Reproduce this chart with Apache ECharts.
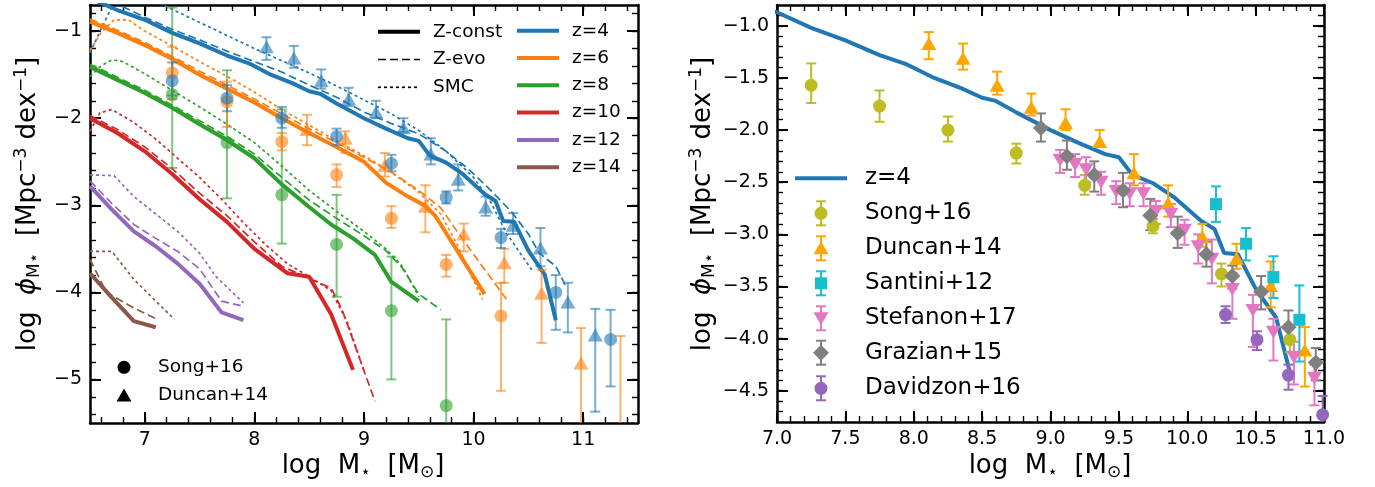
<!DOCTYPE html>
<html><head><meta charset="utf-8">
<script src="https://cdn.jsdelivr.net/npm/echarts@6/dist/echarts.min.js"></script>
<style>html,body{margin:0;padding:0;background:#fff}#c{width:1375px;height:487px}</style>
</head><body><div id="c"></div>
<script>
// ---------------- DATA ----------------
// Left panel model curves: [log M*, log phi]
const z4_const = [[6.5,-0.62],[6.75,-0.76],[7.0,-0.87],[7.25,-1.02],[7.5,-1.14],[7.75,-1.28],[7.95,-1.37],[8.15,-1.50],[8.35,-1.60],[8.5,-1.69],[8.6,-1.72],[8.75,-1.83],[9.0,-2.0],[9.2,-2.12],[9.4,-2.23],[9.5,-2.26],[9.6,-2.43],[9.75,-2.51],[9.9,-2.64],[10.1,-2.87],[10.2,-2.95],[10.27,-3.18],[10.37,-3.19],[10.5,-3.52],[10.65,-3.80],[10.75,-4.32]];
const z4_evo = [[6.6,-0.6],[6.8,-0.72],[7.0,-0.84],[7.25,-0.98],[7.5,-1.10],[7.75,-1.23],[8.0,-1.35],[8.25,-1.47],[8.5,-1.62],[8.75,-1.76],[9.0,-1.93],[9.25,-2.06],[9.5,-2.18],[9.75,-2.38],[9.95,-2.58],[10.15,-2.82],[10.35,-3.08],[10.5,-3.33],[10.6,-3.55],[10.75,-3.70],[10.85,-3.95]];
const z4_smc = [[6.5,-1.25],[6.6,-0.98],[6.7,-0.72],[6.8,-0.55],[7.0,-0.6],[7.25,-0.75],[7.5,-0.9],[7.75,-1.05],[8.0,-1.2],[8.25,-1.34],[8.5,-1.48],[8.75,-1.63],[9.0,-1.79],[9.25,-1.95],[9.5,-2.14],[9.75,-2.38],[10.0,-2.68],[10.15,-2.95],[10.3,-3.32],[10.53,-3.74]];

const z6_const = [[6.5,-0.89],[6.75,-1.02],[7.0,-1.16],[7.25,-1.32],[7.5,-1.50],[7.75,-1.66],[8.0,-1.82],[8.25,-2.0],[8.5,-2.17],[8.75,-2.33],[9.0,-2.5],[9.2,-2.74],[9.4,-2.90],[9.55,-3.0],[9.65,-3.12],[10.1,-4.02]];
const z6_evo = [[6.5,-0.86],[6.75,-0.99],[7.0,-1.13],[7.25,-1.29],[7.5,-1.46],[7.75,-1.62],[8.0,-1.78],[8.25,-1.95],[8.5,-2.12],[8.75,-2.28],[9.0,-2.45],[9.25,-2.62],[9.5,-2.83],[9.7,-3.03],[9.85,-3.3],[10.05,-3.65],[10.3,-4.08]];
const z6_smc = [[6.5,-1.22],[6.6,-1.02],[6.72,-0.87],[6.85,-0.87],[7.0,-1.0],[7.25,-1.17],[7.5,-1.35],[7.75,-1.52],[8.0,-1.70],[8.25,-1.90],[8.5,-2.08],[8.75,-2.26],[9.0,-2.43],[9.25,-2.62],[9.5,-2.85],[9.7,-3.1],[9.85,-3.45],[10.08,-4.08]];

const z8_const = [[6.5,-1.41],[6.75,-1.56],[7.0,-1.71],[7.25,-1.88],[7.5,-2.07],[7.75,-2.25],[8.0,-2.46],[8.25,-2.76],[8.5,-3.02],[8.7,-3.22],[8.9,-3.38],[9.1,-3.57],[9.25,-3.88],[9.5,-4.1]];
const z8_evo = [[6.5,-1.38],[6.75,-1.53],[7.0,-1.68],[7.25,-1.85],[7.5,-2.03],[7.75,-2.21],[8.0,-2.41],[8.25,-2.68],[8.5,-2.94],[8.75,-3.15],[9.0,-3.35],[9.2,-3.52],[9.35,-3.72],[9.5,-4.02],[9.7,-4.2]];
const z8_smc = [[6.5,-1.52],[6.6,-1.40],[6.7,-1.33],[6.8,-1.35],[7.0,-1.49],[7.25,-1.68],[7.5,-1.87],[7.75,-2.07],[8.0,-2.28],[8.25,-2.55],[8.5,-2.83],[8.75,-3.07],[9.0,-3.3],[9.2,-3.5],[9.35,-3.7],[9.5,-4.05]];

const z10_const = [[6.5,-2.0],[6.75,-2.17],[7.0,-2.38],[7.25,-2.64],[7.5,-2.93],[7.75,-3.19],[8.0,-3.5],[8.3,-3.78],[8.5,-3.82],[8.7,-4.25],[8.9,-4.89]];
const z10_evo = [[6.5,-1.97],[6.75,-2.13],[7.0,-2.33],[7.25,-2.58],[7.5,-2.86],[7.75,-3.12],[8.0,-3.42],[8.25,-3.7],[8.5,-3.84],[8.7,-3.95],[8.8,-4.2],[9.1,-5.25]];
const z10_smc = [[6.5,-2.15],[6.59,-1.94],[6.7,-1.90],[6.9,-2.05],[7.1,-2.24],[7.3,-2.46],[7.5,-2.68],[7.7,-2.93],[7.9,-3.2],[8.1,-3.45],[8.3,-3.67],[8.5,-3.82],[8.7,-3.98],[8.85,-4.35],[9.0,-4.9]];

const z12_const = [[6.5,-2.78],[6.7,-3.05],[6.9,-3.30],[7.1,-3.47],[7.3,-3.67],[7.5,-3.90],[7.7,-4.23],[7.9,-4.32]];
const z12_evo = [[6.5,-2.72],[6.7,-2.98],[6.9,-3.22],[7.1,-3.38],[7.3,-3.53],[7.5,-3.73],[7.7,-4.1],[7.9,-4.16]];
const z12_smc = [[6.5,-2.65],[6.72,-2.66],[6.9,-2.90],[7.1,-3.10],[7.3,-3.30],[7.5,-3.55],[7.65,-3.82],[7.8,-4.0],[7.9,-4.12]];

const z14_const = [[6.5,-3.78],[6.7,-4.06],[6.9,-4.33],[7.1,-4.40]];
const z14_evo = [[6.5,-3.62],[6.65,-4.0],[6.9,-4.18],[7.1,-4.30]];
const z14_smc = [[6.5,-3.53],[6.7,-3.53],[6.9,-3.85],[7.1,-4.1],[7.27,-4.31]];

// Left panel observations (x, y, +err, -err)
const song_z4_x = [7.25,7.75,8.25,8.75,9.25,9.75,10.25,10.75,11.25];
const song_z4_y = [-1.57,-1.77,-2.0,-2.21,-2.52,-2.91,-3.37,-4.0,-4.54];
const song_z4_ep = [0.21,0.15,0.13,0.09,0.1,0.07,0.1,0.2,0.34];
const song_z4_em = [0.17,0.15,0.11,0.1,0.09,0.07,0.12,0.43,0.54];

const song_z6_x = [7.25,7.75,8.25,8.75,9.25,9.75,10.25];
const song_z6_y = [-1.48,-1.81,-2.27,-2.65,-3.15,-3.68,-4.27];
const song_z6_ep = [0.3,0.23,0.1,0.12,0.14,0.11,0.38];
const song_z6_em = [0.3,0.29,0.1,0.14,0.11,0.14,0.86];

const song_z8_x = [7.25,7.75,8.25,8.75,9.25,9.75];
const song_z8_y = [-1.73,-2.28,-2.88,-3.45,-4.21,-5.30];
const song_z8_ep = [1.0,0.83,0.98,0.57,0.62,0.99];
const song_z8_em = [0.84,0.64,0.56,0.60,0.79,1.0];

const dun_z4_x = [8.11,8.36,8.61,8.86,9.11,9.36,9.61,9.86,10.11,10.36,10.61,10.86,11.11];
const dun_z4_y = [-1.18,-1.31,-1.57,-1.78,-1.93,-2.11,-2.41,-2.70,-3.02,-3.23,-3.49,-4.11,-4.49];
const dun_z4_ep = [0.11,0.14,0.13,0.13,0.13,0.11,0.18,0.17,0.12,0.14,0.23,0.22,0.30];
const dun_z4_em = [0.15,0.11,0.09,0.08,0.07,0.05,0.12,0.13,0.10,0.10,0.21,0.35,0.88];

const dun_z6_x = [8.48,8.83,9.19,9.56,9.91,10.28,10.62,10.98,11.34];
const dun_z6_y = [-2.13,-2.23,-2.54,-3.01,-3.33,-3.66,-4.01,-4.81,-5.6];
const dun_z6_ep = [0.17,0.08,0.14,0.24,0.12,0.16,0.27,0.40,1.1];
const dun_z6_em = [0.18,0.17,0.13,0.30,0.20,0.23,0.57,0.9,1.0];

// Right panel (z=4) observations
const r_song_x = [7.25,7.75,8.25,8.75,9.25,9.75,10.25,10.75];
const r_song_y = [-1.57,-1.77,-2.0,-2.22,-2.53,-2.92,-3.38,-4.01];
const r_song_ep = [0.21,0.15,0.13,0.09,0.10,0.07,0.10,0.12];
const r_song_em = [0.17,0.15,0.11,0.10,0.09,0.07,0.12,0.12];

const r_dun_x = [8.11,8.36,8.61,8.86,9.11,9.36,9.61,9.86,10.11,10.36,10.61,10.86];
const r_dun_y = [-1.17,-1.31,-1.57,-1.78,-1.93,-2.11,-2.41,-2.70,-3.02,-3.23,-3.49,-4.11];
const r_dun_ep = [0.11,0.14,0.13,0.13,0.13,0.11,0.18,0.17,0.12,0.14,0.23,0.22];
const r_dun_em = [0.15,0.11,0.09,0.08,0.07,0.05,0.12,0.13,0.10,0.10,0.21,0.35];

const r_san_x = [10.21,10.43,10.63,10.82];
const r_san_y = [-2.71,-3.09,-3.41,-3.82];
const r_san_ep = [0.17,0.15,0.20,0.33];
const r_san_em = [0.17,0.16,0.20,0.40];

const r_ste_x = [9.07,9.18,9.26,9.37,9.48,9.58,9.68,9.77,9.88,9.98,10.08,10.18,10.33,10.48,10.63,10.78,10.93];
const r_ste_y = [-2.29,-2.33,-2.38,-2.50,-2.59,-2.61,-2.61,-2.78,-2.81,-2.96,-3.12,-3.24,-3.53,-3.73,-3.94,-4.18,-4.38];
const r_ste_ep = [0.1,0.1,0.12,0.1,0.1,0.1,0.1,0.1,0.1,0.1,0.12,0.19,0.16,0.15,0.13,0.15,0.13];
const r_ste_em = [0.12,0.12,0.12,0.12,0.12,0.12,0.12,0.12,0.12,0.14,0.16,0.23,0.28,0.35,0.27,0.26,0.26];

const r_gra_x = [8.93,9.12,9.32,9.53,9.73,9.93,10.14,10.33,10.54,10.74,10.94];
const r_gra_y = [-1.98,-2.25,-2.43,-2.58,-2.82,-2.99,-3.19,-3.40,-3.55,-3.89,-4.23];
const r_gra_ep = [0.14,0.15,0.13,0.17,0.16,0.16,0.12,0.10,0.15,0.16,0.14];
const r_gra_em = [0.13,0.13,0.16,0.16,0.14,0.14,0.12,0.12,0.17,0.14,0.17];

const r_dav_x = [10.28,10.51,10.74,10.99];
const r_dav_y = [-3.77,-4.01,-4.35,-4.73];
const r_dav_ep = [0.08,0.08,0.10,0.18];
const r_dav_em = [0.08,0.10,0.14,0.20];

// Tick values
const L_xMajor = [7,8,9,10,11];
const L_yMajor = [-5,-4,-3,-2,-1];
const R_xMajor = [7.0,7.5,8.0,8.5,9.0,9.5,10.0,10.5,11.0];
const R_yMajor = [-4.5,-4.0,-3.5,-3.0,-2.5,-2.0,-1.5,-1.0];

const zLabels = ['z=4','z=6','z=8','z=10','z=12','z=14'];
const styleLabels = ['Z-const','Z-evo','SMC'];
const rightLabels = ['Song+16','Duncan+14','Santini+12','Stefanon+17','Grazian+15','Davidzon+16'];

// ---------------- CHART ----------------
const FONT = 'DejaVu Sans';
const COL = ['#1f77b4','#ff7f0e','#2ca02c','#d62728','#9467bd','#8c564b'];
const DASH = [8,4], DOT = [3,3];
const TRI = [15,13];

function steps(a, b, s) { const out=[]; for (let v=a; v<=b+1e-9; v+=s) out.push(Math.round(v*100)/100); return out; }
const fmtInt = v => (v<0?'\u2212':'') + Math.abs(v);
const fmt1 = v => (v<0?'\u2212':'') + Math.abs(v).toFixed(1);

function mkAxes(dim, grid, min, max, majors, minors, fmt) {
  const pm = dim==='x'?'bottom':'left', po = dim==='x'?'top':'right';
  const base = {type:'value', gridIndex:grid, min, max, splitLine:{show:false}, axisPointer:{show:false}, silent:true};
  const line = {show:true, onZero:false, lineStyle:{color:'#000', width:2.5}};
  const majT = {show:true, inside:true, length:11, lineStyle:{color:'#000', width:2}, customValues:majors};
  const minT = {show:true, inside:true, length:6, lineStyle:{color:'#000', width:1.4}, customValues:minors};
  return [
    Object.assign({}, base, {position:pm, axisLine:line, axisTick:majT, axisLabel:{show:true, customValues:majors, formatter:fmt, fontSize:19, fontFamily:FONT, color:'#000', margin:8}}),
    Object.assign({}, base, {position:pm, axisLine:{show:false}, axisTick:minT, axisLabel:{show:false}}),
    Object.assign({}, base, {position:po, axisLine:line, axisTick:majT, axisLabel:{show:false}}),
    Object.assign({}, base, {position:po, axisLine:{show:false}, axisTick:minT, axisLabel:{show:false}})
  ];
}

const xAxes = [].concat(
  mkAxes('x',0,6.5,11.5,L_xMajor,steps(6.6,11.4,0.2), fmtInt),
  mkAxes('x',1,7.0,11.0,R_xMajor,steps(7.1,10.9,0.1), fmt1)
);
const yAxes = [].concat(
  mkAxes('y',0,-5.5,-0.7,L_yMajor,steps(-5.4,-0.8,0.2), fmtInt),
  mkAxes('y',1,-4.8,-0.8,R_yMajor,steps(-4.7,-0.9,0.1), fmt1)
);

const series = [];
function lineS(panel, data, color, width, type) {
  series.push({type:'line', xAxisIndex:panel*4, yAxisIndex:panel*4, data, showSymbol:false, symbol:'none',
    lineStyle:{color, width, type}, clip:true, silent:true, animation:false, z:2});
}
function errS(panel, xs, ys, ep, em, color, op) {
  series.push({type:'custom', xAxisIndex:panel*4, yAxisIndex:panel*4, silent:true, animation:false, z:3,
    data: xs.map((x,i)=>[x, ys[i], ys[i]-em[i], ys[i]+ep[i]]),
    encode:{x:0, y:1},
    renderItem(params, api) {
      const cs = params.coordSys; const top = cs.y, bot = cs.y + cs.height;
      const x = api.value(0);
      const pHi = api.coord([x, api.value(3)]), pLo = api.coord([x, api.value(2)]);
      const px = pHi[0];
      if (px < cs.x - 1 || px > cs.x + cs.width + 1) return null;
      const y1 = Math.max(pHi[1], top), y2 = Math.min(pLo[1], bot);
      if (y2 <= y1) return null;
      const st = {stroke:color, lineWidth:2, opacity:op};
      const ch = [{type:'line', shape:{x1:px,y1:y1,x2:px,y2:y2}, style:st}];
      if (pHi[1] >= top) ch.push({type:'line', shape:{x1:px-5,y1:pHi[1],x2:px+5,y2:pHi[1]}, style:st});
      if (pLo[1] <= bot) ch.push({type:'line', shape:{x1:px-5,y1:pLo[1],x2:px+5,y2:pLo[1]}, style:st});
      return {type:'group', children:ch};
    }});
}
function ptS(panel, xs, ys, color, op, symbol, size, rot) {
  series.push({type:'scatter', xAxisIndex:panel*4, yAxisIndex:panel*4, data: xs.map((x,i)=>[x,ys[i]]),
    symbol, symbolSize:size, symbolRotate:rot||0, itemStyle:{color, opacity:op}, clip:true, silent:true, animation:false, z:4});
}

// Left panel lines
const curves = [[z4_const,z4_evo,z4_smc],[z6_const,z6_evo,z6_smc],[z8_const,z8_evo,z8_smc],[z10_const,z10_evo,z10_smc],[z12_const,z12_evo,z12_smc],[z14_const,z14_evo,z14_smc]];
curves.forEach((c,i)=>{
  lineS(0, c[1], COL[i], 1.7, DASH);
  lineS(0, c[2], COL[i], 1.7, DOT);
  lineS(0, c[0], COL[i], 4, 'solid');
});
// Left panel observations
const LOP = 0.6;
errS(0, song_z8_x, song_z8_y, song_z8_ep, song_z8_em, COL[2], LOP); ptS(0, song_z8_x, song_z8_y, COL[2], LOP, 'circle', 13);
errS(0, song_z6_x, song_z6_y, song_z6_ep, song_z6_em, COL[1], LOP); ptS(0, song_z6_x, song_z6_y, COL[1], LOP, 'circle', 13);
errS(0, dun_z6_x, dun_z6_y, dun_z6_ep, dun_z6_em, COL[1], LOP); ptS(0, dun_z6_x, dun_z6_y, COL[1], LOP, 'triangle', TRI);
errS(0, song_z4_x, song_z4_y, song_z4_ep, song_z4_em, COL[0], LOP); ptS(0, song_z4_x, song_z4_y, COL[0], LOP, 'circle', 13);
errS(0, dun_z4_x, dun_z4_y, dun_z4_ep, dun_z4_em, COL[0], LOP); ptS(0, dun_z4_x, dun_z4_y, COL[0], LOP, 'triangle', TRI);

// Right panel
lineS(1, z4_const, COL[0], 4, 'solid');
const RC = {song:'#bcbd22', dun:'#ffa500', san:'#17becf', ste:'#e377c2', gra:'#7f7f7f', dav:'#9467bd'};
errS(1, r_song_x, r_song_y, r_song_ep, r_song_em, RC.song, 1); ptS(1, r_song_x, r_song_y, RC.song, 1, 'circle', 13);
errS(1, r_dun_x, r_dun_y, r_dun_ep, r_dun_em, RC.dun, 1); ptS(1, r_dun_x, r_dun_y, RC.dun, 1, 'triangle', TRI);
errS(1, r_san_x, r_san_y, r_san_ep, r_san_em, RC.san, 1); ptS(1, r_san_x, r_san_y, RC.san, 1, 'rect', 12);
errS(1, r_ste_x, r_ste_y, r_ste_ep, r_ste_em, RC.ste, 1); ptS(1, r_ste_x, r_ste_y, RC.ste, 1, 'triangle', TRI, 180);
errS(1, r_gra_x, r_gra_y, r_gra_ep, r_gra_em, RC.gra, 1); ptS(1, r_gra_x, r_gra_y, RC.gra, 1, 'diamond', 16);
errS(1, r_dav_x, r_dav_y, r_dav_ep, r_dav_em, RC.dav, 1); ptS(1, r_dav_x, r_dav_y, RC.dav, 1, 'circle', 13);

// ---------------- GRAPHIC (legends & titles) ----------------
const g = [];
const txt = (x,y,t,fs) => g.push({type:'text', x, y, silent:true, style:{text:t, fontSize:fs, fontFamily:FONT, fill:'#000', align:'left', verticalAlign:'middle'}});
const ln = (x1,y1,x2,y2,c,w,dash) => g.push({type:'line', silent:true, shape:{x1,y1,x2,y2}, style:{stroke:c, lineWidth:w, lineDash:dash||null}});
// style legend
const styY = [31.7, 59.5, 87.3];
ln(378,styY[0],420,styY[0],'#000',4); ln(378,styY[1],420,styY[1],'#000',1.7,DASH); ln(378,styY[2],420,styY[2],'#000',1.7,DOT);
styleLabels.forEach((t,i)=>txt(433,styY[i],t,18.5));
zLabels.forEach((t,i)=>{ const y = 30.7 + 27.3*i; ln(517,y,559,y,COL[i],4); txt(572,y,t,18.5); });
// symbol legend (left bottom)
g.push({type:'circle', silent:true, shape:{cx:124, cy:367.3, r:6.5}, style:{fill:'#000'}});
g.push({type:'polygon', silent:true, shape:{points:[[124,388.5],[131.5,401.5],[116.5,401.5]]}, style:{fill:'#000'}});
txt(158,367.3,'Song+16',18.5); txt(158,395,'Duncan+14',18.5);
// right legend
ln(795,178.3,847,178.3,COL[0],4); txt(865,178.3,'z=4',23);
const rY = [213.3,248.3,283.3,318.3,352.7,388.3];
const rCol = [RC.song,RC.dun,RC.san,RC.ste,RC.gra,RC.dav];
rY.forEach((y,i)=>{
  const c = rCol[i], cx = 821;
  ln(cx,y-12,cx,y+12,c,2); ln(cx-5,y-12,cx+5,y-12,c,2); ln(cx-5,y+12,cx+5,y+12,c,2);
  let shape;
  if (i===0 || i===5) shape = {type:'circle', shape:{cx, cy:y, r:6.5}};
  else if (i===1) shape = {type:'polygon', shape:{points:[[cx,y-7],[cx+7.5,y+6],[cx-7.5,y+6]]}};
  else if (i===2) shape = {type:'rect', shape:{x:cx-6, y:y-6, width:12, height:12}};
  else if (i===3) shape = {type:'polygon', shape:{points:[[cx,y+7],[cx+7.5,y-6],[cx-7.5,y-6]]}};
  else shape = {type:'polygon', shape:{points:[[cx,y-8],[cx+8,y],[cx,y+8],[cx-8,y]]}};
  shape.silent = true; shape.style = {fill:c};
  g.push(shape);
  txt(865,y,rightLabels[i],23);
});
// axis titles
const richT = {
  a:{fontSize:26, fontFamily:FONT, fill:'#000'},
  i:{fontSize:26, fontFamily:FONT, fontStyle:'italic', fill:'#000'},
  s:{fontSize:17, fontFamily:FONT, fill:'#000', padding:[14,0,0,0]},
  p:{fontSize:17, fontFamily:FONT, fill:'#000', padding:[0,0,13,0]}
};
const xTitle = '{a|log  M}{s|\u22c6}{a|  [M}{s|\u2299}{a|]}';
const yTitle = '{a|log  }{i|\u03d5}{s|M\u22c6}{a|  [Mpc}{p|\u22123}{a| dex}{p|\u22121}{a|]}';
[[363,466],[1050,466]].forEach(p=>g.push({type:'text', x:p[0], y:p[1], silent:true, style:{text:xTitle, rich:richT, align:'center', verticalAlign:'middle'}}));
[[28,204],[703,204]].forEach(p=>g.push({type:'text', x:p[0], y:p[1], rotation:Math.PI/2, silent:true, style:{text:yTitle, rich:richT, align:'center', verticalAlign:'middle'}}));

const chart = echarts.init(document.getElementById('c'), null, {renderer:'canvas'});
chart.setOption({
  backgroundColor:'#fff', animation:false,
  grid:[{left:90, top:5, width:548, height:418}, {left:777, top:5, width:547, height:417}],
  xAxis: xAxes, yAxis: yAxes, series, graphic: g
});
</script></body></html>
